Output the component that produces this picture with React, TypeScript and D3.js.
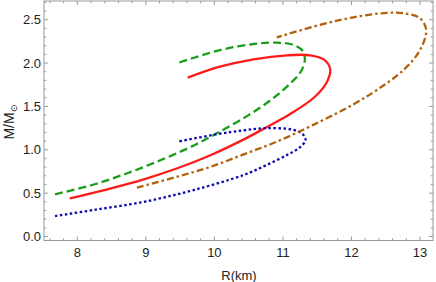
import React from 'react';
import * as d3 from 'd3';

// mass-radius curves, points in order along each curve: [R (km), M/Msun]
const redR = [7.89, 8.49, 8.97, 9.46, 9.95, 10.43, 10.76, 11.1, 11.45, 11.64, 11.69, 11.6, 11.4, 11.06, 10.57, 10.08, 9.61];
const redM = [0.44, 0.556, 0.66, 0.787, 0.94, 1.12, 1.26, 1.41, 1.6, 1.78, 1.93, 2.04, 2.09, 2.09, 2.044, 1.958, 1.832];

const greenR = [7.675, 8.24, 8.73, 9.22, 9.7, 10.08, 10.5, 10.85, 11.1, 11.26, 11.32, 11.29, 11.15, 10.91, 10.57, 10.08, 9.46];
const greenM = [0.487, 0.6, 0.73, 0.882, 1.05, 1.21, 1.4, 1.59, 1.76, 1.9, 2.036, 2.14, 2.21, 2.235, 2.22, 2.15, 1.999];

const blueR = [7.675, 8.24, 8.97, 9.7, 10.43, 10.75, 11.06, 11.25, 11.33, 11.29, 11.15, 10.76, 10.43, 10.04, 9.46];
const blueM = [0.236, 0.306, 0.4, 0.536, 0.71, 0.82, 0.94, 1.03, 1.11, 1.18, 1.23, 1.25, 1.225, 1.18, 1.093];

const brownR = [8.87, 9.46, 9.95, 10.43, 10.9, 11.45, 12.02, 12.37, 12.76, 13.0, 13.09, 13.0, 12.76, 12.52, 12.03, 11.54, 10.91];
const brownM = [0.563, 0.69, 0.805, 0.948, 1.09, 1.29, 1.52, 1.69, 1.92, 2.15, 2.38, 2.517, 2.574, 2.58, 2.528, 2.44, 2.297];

const xTicks = [8, 9, 10, 11, 12, 13];
const yTicks = [0.0, 0.5, 1.0, 1.5, 2.0, 2.5];

const W = 436;
const H = 282;
const left = 44, right = 433, top = 1, bottom = 240.5;

const series = [
  { r: greenR, m: greenM, color: '#1a9e1a', dash: '8,4' },
  { r: redR, m: redM, color: '#ff1a1a', dash: null },
  { r: blueR, m: blueM, color: '#0a0ab0', dash: '2.5,2.5' },
  { r: brownR, m: brownM, color: '#b3600d', dash: '7,3,2.5,3' },
];

const App = () => {
  const x = d3.scaleLinear().domain([7.514, 13.19]).range([left, right]);
  const y = d3.scaleLinear().domain([-0.046, 2.716]).range([bottom, top]);

  const line = d3
    .line<[number, number]>()
    .x((d) => x(d[0]))
    .y((d) => y(d[1]))
    .curve(d3.curveCatmullRom.alpha(0.5));

  const xMinor = d3.range(7.6, 13.19, 0.2).filter((v) => Math.abs(v - Math.round(v)) > 0.01);
  const yMinor = d3.range(0, 2.72, 0.1).filter((v) => Math.abs(v * 2 - Math.round(v * 2)) > 0.01);
  const frame = '#9a9a9a';
  const fmt = d3.format('.1f');

  return (
    <svg width={W} height={H} style={{ position: 'absolute', left: 0, top: 0 }} fontFamily="'Liberation Sans', Arial, sans-serif">
      <rect x={0} y={0} width={W} height={H} fill="#fff" />
      <defs>
        <clipPath id="clip">
          <rect x={left} y={top} width={right - left} height={bottom - top} />
        </clipPath>
      </defs>
      <g clipPath="url(#clip)">
        {series.map((s, i) => (
          <path
            key={i}
            d={line(s.r.map((v, j) => [v, s.m[j]] as [number, number])) || ''}
            fill="none"
            stroke={s.color}
            strokeWidth={2.3}
            strokeDasharray={s.dash || undefined}
          />
        ))}
      </g>
      <rect x={left} y={top} width={right - left} height={bottom - top} fill="none" stroke={frame} strokeWidth={1} />
      {xTicks.map((t) => (
        <g key={'x' + t}>
          <line x1={x(t)} x2={x(t)} y1={bottom} y2={bottom - 4} stroke={frame} />
          <line x1={x(t)} x2={x(t)} y1={top} y2={top + 4} stroke={frame} />
          <text x={x(t)} y={257} textAnchor="middle" fontSize={13} fill="#222">{t}</text>
        </g>
      ))}
      {xMinor.map((t, i) => (
        <g key={'xm' + i}>
          <line x1={x(t)} x2={x(t)} y1={bottom} y2={bottom - 2.3} stroke={frame} />
          <line x1={x(t)} x2={x(t)} y1={top} y2={top + 2.3} stroke={frame} />
        </g>
      ))}
      {yTicks.map((t) => (
        <g key={'y' + t}>
          <line x1={left} x2={left + 4} y1={y(t)} y2={y(t)} stroke={frame} />
          <line x1={right} x2={right - 4} y1={y(t)} y2={y(t)} stroke={frame} />
          <text x={41} y={y(t) + 4.5} textAnchor="end" fontSize={13} fill="#222">{fmt(t)}</text>
        </g>
      ))}
      {yMinor.map((t, i) => (
        <g key={'ym' + i}>
          <line x1={left} x2={left + 2.3} y1={y(t)} y2={y(t)} stroke={frame} />
          <line x1={right} x2={right - 2.3} y1={y(t)} y2={y(t)} stroke={frame} />
        </g>
      ))}
      <text x={239} y={280} textAnchor="middle" fontSize={13} fill="#222">R(km)</text>
      <text transform="translate(14,122) rotate(-90)" textAnchor="middle" fontSize={14} fill="#222">
        M/M<tspan fontSize={9} dy={3}>⊙</tspan>
      </text>
    </svg>
  );
};

export default App;
